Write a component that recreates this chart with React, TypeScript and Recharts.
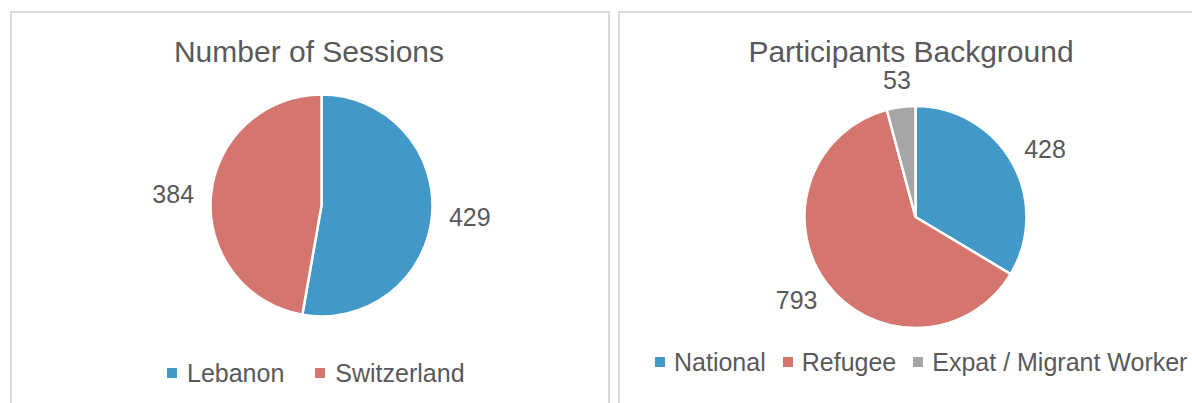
import React from "react";
import { PieChart, Pie, Cell, Legend } from "recharts";

const sessionCountries = ["Lebanon", "Switzerland"];
const sessionValues = [429, 384];

const backgroundCategories = ["National", "Refugee", "Expat / Migrant Worker"];
const backgroundValues = [428, 793, 53];

const sessionColors = ["#4299C7", "#D5766E"];
const backgroundColors = ["#4299C7", "#D5766E", "#A5A5A5"];

const FONT = "'Liberation Sans', Arial, sans-serif";
const TEXT_COLOR = "#595959";
const RAD = Math.PI / 180;
const LABEL_SIZE = 25;

const sessionData = sessionCountries.map((name, i) => ({ name, value: sessionValues[i] }));
const backgroundData = backgroundCategories.map((name, i) => ({ name, value: backgroundValues[i] }));

// Excel-like "outside end" label: anchor point just outside the arc,
// label box pushed outward so its edge touches the anchor.
const renderLabel = (gap: number) => (props: any) => {
  const { cx, cy, midAngle, outerRadius, value } = props;
  const r = outerRadius + gap;
  const c = Math.cos(-midAngle * RAD);
  const s = Math.sin(-midAngle * RAD);
  const halfW = (String(value).length * 0.556 * LABEL_SIZE) / 2;
  const halfH = 10;
  const x = cx + r * c + halfW * c;
  const y = cy + r * s + halfH * s;
  return (
    <text
      x={x}
      y={y}
      textAnchor="middle"
      dominantBaseline="central"
      fill={TEXT_COLOR}
      fontSize={LABEL_SIZE}
      fontFamily={FONT}
    >
      {value}
    </text>
  );
};

const makeLegend = (names: string[], colors: string[], gap: number, iconGap: number) => (props: any) => {
  const payload = [...(props.payload || [])].sort(
    (a: any, b: any) => names.indexOf(a.value) - names.indexOf(b.value)
  );
  return (
    <div style={{ display: "flex", alignItems: "center", whiteSpace: "nowrap", fontFamily: FONT, fontSize: 25, color: TEXT_COLOR, lineHeight: "30px" }}>
      {payload.map((entry: any, i: number) => (
        <div key={i} style={{ display: "flex", alignItems: "center", marginRight: gap }}>
          <span style={{ display: "inline-block", width: 10, height: 10, background: colors[names.indexOf(entry.value)] || entry.color, marginRight: iconGap }} />
          <span>{entry.value}</span>
        </div>
      ))}
    </div>
  );
};

const panelStyle: React.CSSProperties = {
  position: "absolute",
  top: 11,
  width: 600,
  height: 400,
  border: "2px solid #D9D9D9",
  boxSizing: "border-box",
  background: "#fff",
};

const titleStyle: React.CSSProperties = {
  position: "absolute",
  top: 34,
  fontFamily: FONT,
  fontSize: 30,
  lineHeight: "36px",
  color: TEXT_COLOR,
  whiteSpace: "nowrap",
  transform: "translateX(-50%)",
};

export default function App() {
  return (
    <div style={{ position: "absolute", left: 0, top: 0, width: 1192, height: 403, overflow: "hidden", background: "#fff" }}>
      <div style={{ ...panelStyle, left: 10 }} />
      <div style={{ ...panelStyle, left: 618 }} />

      <div style={{ ...titleStyle, left: 309 }}>Number of Sessions</div>
      <div style={{ ...titleStyle, left: 911 }}>Participants Background</div>

      <div style={{ position: "absolute", left: 12, top: 13 }}>
        <PieChart width={596} height={390} margin={{ top: 0, right: 0, bottom: 0, left: 0 }}>
          <Pie
            data={sessionData}
            dataKey="value"
            nameKey="name"
            cx={309.5}
            cy={192.5}
            outerRadius={111}
            startAngle={90}
            endAngle={-270}
            stroke="#fff"
            strokeWidth={2.5}
            label={renderLabel(17)}
            labelLine={false}
            isAnimationActive={false}
          >
            {sessionData.map((_, i) => (
              <Cell key={i} fill={sessionColors[i]} />
            ))}
          </Pie>
          <Legend
            content={makeLegend(sessionCountries, sessionColors, 31, 10)}
            wrapperStyle={{ left: 155, top: 345, width: "auto", bottom: "auto" }}
          />
        </PieChart>
      </div>

      <div style={{ position: "absolute", left: 620, top: 13 }}>
        <PieChart width={572} height={390} margin={{ top: 0, right: 0, bottom: 0, left: 0 }}>
          <Pie
            data={backgroundData}
            dataKey="value"
            nameKey="name"
            cx={295.5}
            cy={204}
            outerRadius={111}
            startAngle={90}
            endAngle={-270}
            stroke="#fff"
            strokeWidth={2.5}
            label={renderLabel(17)}
            labelLine={false}
            isAnimationActive={false}
          >
            {backgroundData.map((_, i) => (
              <Cell key={i} fill={backgroundColors[i]} />
            ))}
          </Pie>
          <Legend
            content={makeLegend(backgroundCategories, backgroundColors, 17, 9)}
            wrapperStyle={{ left: 35, top: 334, width: "auto", bottom: "auto" }}
          />
        </PieChart>
      </div>
    </div>
  );
}
